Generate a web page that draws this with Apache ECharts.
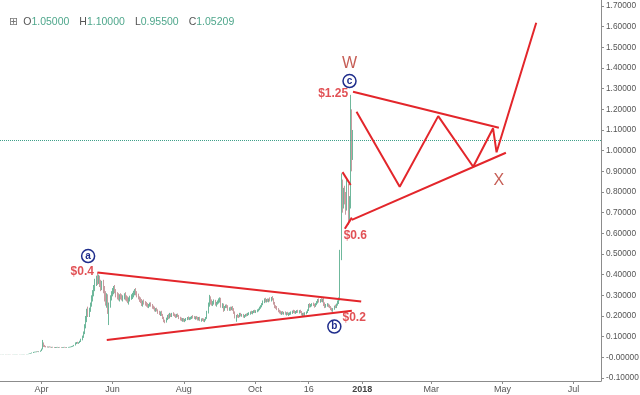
<!DOCTYPE html>
<html><head><meta charset="utf-8">
<script src="https://cdn.jsdelivr.net/npm/echarts@6/dist/echarts.min.js"></script>
<style>html,body{margin:0;padding:0;background:#fff}#c{width:640px;height:395px}</style>
</head><body><div id="c"></div>
<script>
// ---- Daily candles [open, high, low, close] ----
const feb17 = [[0.0130,0.0135,0.0128,0.0132],[0.0132,0.0136,0.0129,0.0131],[0.0131,0.0134,0.0127,0.0133],[0.0133,0.0138,0.0130,0.0135]];
const mar17 = [[0.0135,0.0140,0.0132,0.0137],[0.0137,0.0141,0.0133,0.0136],[0.0136,0.0139,0.0131,0.0134],[0.0134,0.0138,0.0130,0.0136],[0.0136,0.0140,0.0133,0.0138],[0.0138,0.0142,0.0134,0.0137],[0.0137,0.0140,0.0132,0.0135],[0.0135,0.0139,0.0131,0.0136],[0.0136,0.0141,0.0133,0.0139],[0.0139,0.0143,0.0135,0.0140],[0.0140,0.0146,0.0137,0.0143],[0.0143,0.0147,0.0139,0.0141],[0.0141,0.0145,0.0137,0.0142],[0.0142,0.0146,0.0138,0.0140],[0.0140,0.0144,0.0136,0.0142],[0.0142,0.0148,0.0139,0.0146],[0.0146,0.0152,0.0142,0.0149],[0.0149,0.0155,0.0144,0.0147],[0.0147,0.0153,0.0143,0.0151],[0.0151,0.0158,0.0148,0.0155],[0.0155,0.0170,0.0152,0.0166],[0.0166,0.0185,0.0160,0.0178],[0.0178,0.0205,0.0172,0.0196],[0.0196,0.0230,0.0188,0.0221],[0.0221,0.0260,0.0210,0.0245],[0.0245,0.0270,0.0232,0.0252],[0.0252,0.0275,0.0240,0.0258],[0.0258,0.0285,0.0245,0.0270],[0.0270,0.0295,0.0255,0.0265],[0.0265,0.0290,0.0250,0.0275],[0.0275,0.0330,0.0265,0.0310]];
const apr17 = [[0.0310,0.0420,0.0300,0.0400],[0.0400,0.0840,0.0380,0.0620],[0.0620,0.0720,0.0500,0.0560],[0.0560,0.0600,0.0490,0.0520],[0.0520,0.0550,0.0480,0.0500],[0.0500,0.0530,0.0470,0.0490],[0.0490,0.0520,0.0470,0.0505],[0.0505,0.0530,0.0480,0.0495],[0.0495,0.0515,0.0470,0.0480],[0.0480,0.0505,0.0460,0.0490],[0.0490,0.0510,0.0465,0.0475],[0.0475,0.0500,0.0455,0.0470],[0.0470,0.0495,0.0450,0.0480],[0.0480,0.0500,0.0460,0.0485],[0.0485,0.0505,0.0465,0.0478],[0.0478,0.0498,0.0460,0.0482],[0.0482,0.0502,0.0465,0.0476],[0.0476,0.0495,0.0458,0.0470],[0.0470,0.0492,0.0455,0.0478],[0.0478,0.0500,0.0462,0.0485],[0.0485,0.0505,0.0468,0.0480],[0.0480,0.0498,0.0462,0.0474],[0.0474,0.0495,0.0458,0.0480],[0.0480,0.0502,0.0465,0.0488],[0.0488,0.0510,0.0470,0.0495],[0.0495,0.0520,0.0478,0.0505],[0.0505,0.0540,0.0490,0.0525],[0.0525,0.0560,0.0505,0.0545],[0.0545,0.0600,0.0530,0.0580],[0.0580,0.0720,0.0570,0.0680]];
const may17 = [[0.068,0.074,0.064,0.070],[0.070,0.075,0.066,0.068],[0.068,0.073,0.065,0.071],[0.071,0.080,0.069,0.077],[0.077,0.090,0.074,0.086],[0.086,0.105,0.082,0.098],[0.098,0.125,0.094,0.118],[0.118,0.160,0.112,0.150],[0.150,0.200,0.140,0.185],[0.185,0.235,0.170,0.220],[0.220,0.245,0.195,0.210],[0.210,0.240,0.195,0.230],[0.230,0.265,0.220,0.255],[0.255,0.300,0.245,0.290],[0.290,0.325,0.270,0.310],[0.310,0.350,0.295,0.340],[0.340,0.380,0.320,0.365],[0.365,0.395,0.345,0.385],[0.385,0.410,0.350,0.370],[0.370,0.400,0.355,0.380],[0.380,0.395,0.340,0.355],[0.355,0.375,0.320,0.345],[0.345,0.370,0.325,0.360],[0.360,0.375,0.310,0.325],[0.325,0.345,0.270,0.300],[0.300,0.320,0.250,0.270],[0.270,0.310,0.240,0.295],[0.295,0.305,0.210,0.230],[0.230,0.265,0.156,0.250],[0.250,0.300,0.240,0.290],[0.290,0.320,0.275,0.310]];
const jun17 = [[0.310,0.335,0.295,0.320],[0.320,0.345,0.305,0.330],[0.330,0.350,0.310,0.315],[0.315,0.330,0.290,0.300],[0.300,0.315,0.280,0.295],[0.295,0.310,0.275,0.285],[0.285,0.305,0.270,0.295],[0.295,0.310,0.280,0.290],[0.290,0.305,0.275,0.285],[0.285,0.300,0.270,0.292],[0.292,0.310,0.280,0.300],[0.300,0.315,0.275,0.285],[0.285,0.300,0.270,0.280],[0.280,0.295,0.262,0.272],[0.272,0.290,0.255,0.282],[0.282,0.298,0.270,0.290],[0.290,0.305,0.278,0.295],[0.295,0.312,0.282,0.300],[0.300,0.322,0.290,0.312],[0.312,0.330,0.300,0.318],[0.318,0.335,0.300,0.310],[0.310,0.320,0.290,0.298],[0.298,0.308,0.280,0.285],[0.285,0.295,0.268,0.278],[0.278,0.290,0.262,0.270],[0.270,0.282,0.248,0.258],[0.258,0.275,0.245,0.268],[0.268,0.280,0.255,0.262],[0.262,0.272,0.250,0.258],[0.258,0.268,0.245,0.255]];
const jul17 = [[0.255,0.262,0.240,0.248],[0.248,0.258,0.238,0.252],[0.252,0.265,0.245,0.258],[0.258,0.266,0.245,0.250],[0.250,0.258,0.235,0.242],[0.242,0.250,0.232,0.238],[0.238,0.245,0.222,0.228],[0.228,0.238,0.220,0.232],[0.232,0.240,0.222,0.226],[0.226,0.232,0.210,0.215],[0.215,0.225,0.205,0.210],[0.210,0.222,0.200,0.218],[0.218,0.225,0.200,0.205],[0.205,0.210,0.185,0.190],[0.190,0.196,0.170,0.175],[0.175,0.182,0.165,0.172],[0.172,0.192,0.168,0.188],[0.188,0.205,0.180,0.200],[0.200,0.210,0.185,0.195],[0.195,0.215,0.188,0.205],[0.205,0.212,0.195,0.200],[0.200,0.215,0.195,0.210],[0.210,0.218,0.200,0.205],[0.205,0.212,0.196,0.200],[0.200,0.208,0.190,0.198],[0.198,0.210,0.192,0.205],[0.205,0.212,0.195,0.198],[0.198,0.205,0.185,0.190],[0.190,0.196,0.178,0.185],[0.185,0.192,0.175,0.180],[0.180,0.190,0.172,0.182]];
const aug17 = [[0.182,0.190,0.172,0.178],[0.178,0.186,0.170,0.180],[0.180,0.190,0.175,0.186],[0.186,0.195,0.180,0.190],[0.190,0.198,0.182,0.186],[0.186,0.194,0.180,0.188],[0.188,0.196,0.182,0.192],[0.192,0.200,0.185,0.196],[0.196,0.204,0.188,0.194],[0.194,0.200,0.185,0.190],[0.190,0.198,0.182,0.192],[0.192,0.200,0.184,0.188],[0.188,0.196,0.178,0.185],[0.185,0.195,0.178,0.190],[0.190,0.196,0.175,0.180],[0.180,0.188,0.172,0.184],[0.184,0.190,0.176,0.180],[0.180,0.188,0.172,0.178],[0.178,0.186,0.170,0.182],[0.182,0.195,0.178,0.190],[0.190,0.225,0.186,0.218],[0.218,0.265,0.212,0.255],[0.255,0.302,0.245,0.285],[0.285,0.295,0.255,0.265],[0.265,0.280,0.250,0.258],[0.258,0.272,0.248,0.265],[0.265,0.280,0.255,0.270],[0.270,0.278,0.250,0.256],[0.256,0.268,0.245,0.262],[0.262,0.275,0.255,0.268],[0.268,0.285,0.260,0.275]];
const sep17 = [[0.275,0.290,0.265,0.282],[0.282,0.288,0.240,0.250],[0.250,0.262,0.238,0.255],[0.255,0.260,0.220,0.235],[0.235,0.248,0.225,0.242],[0.242,0.255,0.238,0.250],[0.250,0.256,0.238,0.245],[0.245,0.252,0.225,0.232],[0.232,0.242,0.225,0.238],[0.238,0.245,0.225,0.235],[0.235,0.245,0.228,0.240],[0.240,0.248,0.225,0.232],[0.232,0.238,0.210,0.218],[0.218,0.222,0.188,0.195],[0.195,0.205,0.172,0.200],[0.200,0.210,0.192,0.198],[0.198,0.205,0.190,0.196],[0.196,0.215,0.194,0.210],[0.210,0.215,0.198,0.202],[0.202,0.210,0.196,0.205],[0.205,0.210,0.192,0.198],[0.198,0.205,0.190,0.202],[0.202,0.210,0.196,0.206],[0.206,0.212,0.198,0.204],[0.204,0.215,0.200,0.210],[0.210,0.218,0.204,0.212],[0.212,0.222,0.206,0.218],[0.218,0.225,0.210,0.215],[0.215,0.224,0.208,0.220],[0.220,0.228,0.214,0.224]];
const oct17 = [[0.224,0.230,0.215,0.220],[0.220,0.228,0.214,0.224],[0.224,0.232,0.218,0.228],[0.228,0.236,0.222,0.232],[0.232,0.245,0.228,0.240],[0.240,0.252,0.235,0.248],[0.248,0.262,0.242,0.258],[0.258,0.275,0.252,0.270],[0.270,0.285,0.262,0.278],[0.278,0.288,0.266,0.272],[0.272,0.282,0.265,0.276],[0.276,0.285,0.268,0.274],[0.274,0.284,0.266,0.280],[0.280,0.290,0.270,0.278],[0.278,0.292,0.270,0.286],[0.286,0.296,0.275,0.282],[0.282,0.286,0.255,0.262],[0.262,0.268,0.238,0.245],[0.245,0.252,0.235,0.240],[0.240,0.248,0.228,0.232],[0.232,0.238,0.218,0.224],[0.224,0.230,0.212,0.220],[0.220,0.226,0.208,0.214],[0.214,0.222,0.205,0.218],[0.218,0.224,0.208,0.212],[0.212,0.220,0.206,0.216],[0.216,0.222,0.206,0.210],[0.210,0.218,0.202,0.212],[0.212,0.220,0.205,0.208],[0.208,0.216,0.200,0.212],[0.212,0.218,0.204,0.214]];
const nov17 = [[0.214,0.222,0.206,0.218],[0.218,0.226,0.210,0.222],[0.222,0.230,0.214,0.220],[0.220,0.228,0.212,0.216],[0.216,0.224,0.210,0.220],[0.220,0.228,0.214,0.224],[0.224,0.230,0.215,0.220],[0.220,0.228,0.212,0.222],[0.222,0.230,0.214,0.218],[0.218,0.224,0.202,0.208],[0.208,0.215,0.198,0.210],[0.210,0.216,0.195,0.204],[0.204,0.218,0.200,0.214],[0.214,0.222,0.208,0.218],[0.218,0.232,0.214,0.228],[0.228,0.258,0.224,0.252],[0.252,0.262,0.240,0.246],[0.246,0.258,0.242,0.254],[0.254,0.262,0.246,0.258],[0.258,0.265,0.248,0.252],[0.252,0.260,0.240,0.248],[0.248,0.262,0.244,0.258],[0.258,0.272,0.252,0.266],[0.266,0.282,0.260,0.276],[0.276,0.285,0.265,0.272],[0.272,0.282,0.264,0.278],[0.278,0.286,0.268,0.274],[0.274,0.284,0.266,0.280],[0.280,0.288,0.248,0.258],[0.258,0.266,0.238,0.250]];
const dec17 = [[0.250,0.258,0.240,0.252],[0.252,0.262,0.245,0.255],[0.255,0.260,0.242,0.248],[0.248,0.255,0.238,0.242],[0.242,0.248,0.228,0.234],[0.234,0.240,0.222,0.230],[0.230,0.238,0.220,0.236],[0.236,0.250,0.230,0.246],[0.246,0.255,0.238,0.242],[0.242,0.260,0.238,0.255],[0.255,0.275,0.250,0.268],[0.268,0.290,0.258,0.280],[0.280,0.520,0.275,0.480],[0.480,0.890,0.470,0.820],[0.820,0.860,0.700,0.740],[0.740,0.820,0.720,0.790],[0.790,0.830,0.740,0.760],[0.760,0.800,0.690,0.720],[0.720,0.860,0.710,0.800],[0.800,0.840,0.640,0.700],[0.700,0.780,0.660,0.740],[0.740,1.270,0.720,1.160],[1.160,1.200,0.900,1.050],[1.050,1.100,0.955,1.05209]];

// ---- Axis ticks ----
const firstDay = '2017-02-25';
const dayCount = 515;
const xTickDates  = ['2017-04-01','2017-06-01','2017-08-01','2017-10-01','2017-11-16','2018-01-01','2018-03-01','2018-05-01','2018-07-01'];
const xTickLabels = ['Apr','Jun','Aug','Oct','16','2018','Mar','May','Jul'];
const priceTickValues = [1.7,1.6,1.5,1.4,1.3,1.2,1.1,1.0,0.9,0.8,0.7,0.6,0.5,0.4,0.3,0.2,0.1,0,-0.1];
const priceTickLabels = ['1.70000','1.60000','1.50000','1.40000','1.30000','1.20000','1.10000','1.00000','0.90000','0.80000','0.70000','0.60000','0.50000','0.40000','0.30000','0.20000','0.10000','-0.00000','-0.10000'];
const priceMin = -0.1147, priceMax = 1.729;

// ---- Drawn annotations: [date, price] ----
const triangle1Upper = [['2017-05-19',0.41],['2017-12-31',0.27]];
const triangle1Lower = [['2017-05-27',0.084],['2017-12-23',0.225]];
const triangle2Upper = [['2017-12-24',1.285],['2018-04-28',1.111]];
const triangle2Lower = [['2017-12-23',0.665],['2018-05-04',0.99]];
const projection = [['2017-12-27',1.188],['2018-02-02',0.825],['2018-03-07',1.167],['2018-04-06',0.922],['2018-04-23',1.108],['2018-04-26',0.992],['2018-05-30',1.619]];
const tickUpper = [['2017-12-15',0.896],['2017-12-22',0.834]];
const tickLower = [['2017-12-17',0.622],['2017-12-23',0.676]];
const priceNotes = [['2017-05-06',0.415,'$0.4'],['2017-12-25',0.193,'$0.2'],['2017-12-07',1.276,'$1.25'],['2017-12-26',0.589,'$0.6']];
const waveNotes = [['2017-05-11',0.49,'a'],['2017-12-08',0.149,'b'],['2017-12-21',1.337,'c']];
const degreeNotes = [['2017-12-21',1.419,'W'],['2018-04-28',0.853,'X']];

// ---- build ----
const dates = [];
{
  const t0 = Date.parse(firstDay + 'T00:00:00Z');
  for (let i = 0; i < dayCount; i++) dates.push(new Date(t0 + i * 86400000).toISOString().slice(0, 10));
}
const rows = [].concat(feb17, mar17, apr17, may17, jun17, jul17, aug17, sep17, oct17, nov17, dec17);
const candles = rows.map(r => [r[0], r[3], r[2], r[1]]);
const last = rows[rows.length - 1];

const RED = '#e3262b';
const isTick = (idx, val) => xTickDates.indexOf(val) >= 0;
const lineSeries = (pts) => ({
  type: 'line', data: pts, showSymbol: false, symbol: 'none', silent: true, z: 5,
  lineStyle: { color: RED, width: 2 }, animation: false
});

const chart = echarts.init(document.getElementById('c'), null, { renderer: 'canvas' });
chart.setOption({
  animation: false,
  backgroundColor: '#ffffff',
  textStyle: { fontFamily: 'Liberation Sans, Arial, sans-serif' },
  title: {
    left: 4, top: 8,
    text: '{i|⊞} {k|O}{v|' + last[0].toFixed(5) + '}  {k|H}{v|' + last[1].toFixed(5) + '}  {k|L}{v|' + last[2].toFixed(5) + '}  {k|C}{v|' + last[3].toFixed(5) + '}',
    textStyle: { fontWeight: 'normal', rich: {
      i: { color: '#777', fontSize: 11, fontWeight: 'normal', fontFamily: 'DejaVu Sans' },
      k: { color: '#555', fontSize: 10.5, fontWeight: 'normal', fontFamily: 'Liberation Sans' },
      v: { color: '#4fa78c', fontSize: 10.5, fontWeight: 'normal', fontFamily: 'Liberation Sans' }
    } }
  },
  grid: { left: 0, right: 39, top: 0, bottom: 14, outerBoundsMode: 'none', containLabel: false },
  xAxis: {
    type: 'category', data: dates, boundaryGap: true,
    axisLine: { onZero: false, lineStyle: { color: '#8c8c8c', width: 1 } },
    axisTick: { show: true, interval: isTick, alignWithLabel: true, length: 3, lineStyle: { color: '#8c8c8c' } },
    axisLabel: {
      interval: isTick, margin: 4, fontSize: 9, color: '#555',
      formatter: (v) => { const k = xTickDates.indexOf(v); return k === 5 ? '{b|' + xTickLabels[k] + '}' : (k >= 0 ? xTickLabels[k] : ''); },
      rich: { b: { fontSize: 9, fontWeight: 'bold', color: '#444' } }
    },
    splitLine: { show: false }
  },
  yAxis: {
    type: 'value', position: 'right', min: priceMin, max: priceMax, scale: true,
    axisLine: { show: true, lineStyle: { color: '#8c8c8c', width: 1 } },
    axisTick: { show: true, length: 3, customValues: priceTickValues, lineStyle: { color: '#8c8c8c' } },
    axisLabel: {
      customValues: priceTickValues, margin: 5, fontSize: 8.3, color: '#555',
      formatter: (v) => { const k = priceTickValues.findIndex(t => Math.abs(t - v) < 1e-9); return k >= 0 ? priceTickLabels[k] : ''; }
    },
    splitLine: { show: false }
  },
  series: [
    {
      type: 'candlestick', data: candles, z: 2,
      itemStyle: { color: '#6fb89c', color0: '#dc939a', borderColor: '#6fb89c', borderColor0: '#c99ca0', borderWidth: 1 },
      markLine: {
        silent: true, symbol: ['none', 'none'], label: { show: false },
        lineStyle: { type: 'dotted', color: '#3fa08a', width: 1 },
        data: [{ yAxis: last[3] }]
      }
    },
    lineSeries(triangle1Upper), lineSeries(triangle1Lower),
    lineSeries(triangle2Upper), lineSeries(triangle2Lower),
    lineSeries(projection), lineSeries(tickUpper), lineSeries(tickLower),
    {
      type: 'scatter', silent: true, z: 8, symbolSize: 1, itemStyle: { color: 'rgba(0,0,0,0)' },
      data: priceNotes.map(n => ({ value: [n[0], n[1]], name: n[2] })),
      label: { show: true, position: 'inside', formatter: p => p.name, color: '#d9262b', fontSize: 12, fontWeight: 'bold', fontFamily: 'Liberation Sans' }
    },
    {
      type: 'scatter', silent: true, z: 9, symbol: 'circle', symbolSize: 13,
      itemStyle: { color: '#ffffff', borderColor: '#1f2d8c', borderWidth: 1.5, opacity: 1 },
      data: waveNotes.map(n => ({ value: [n[0], n[1]], name: n[2] })),
      label: { show: true, position: 'inside', formatter: p => p.name, color: '#1f2d8c', fontSize: 10, fontWeight: 'bold', fontFamily: 'Liberation Sans' }
    },
    {
      type: 'scatter', silent: true, z: 8, symbolSize: 1, itemStyle: { color: 'rgba(0,0,0,0)' },
      data: degreeNotes.map(n => ({ value: [n[0], n[1]], name: n[2] })),
      label: { show: true, position: 'inside', formatter: p => p.name, color: '#b8352a', fontSize: 16, fontFamily: 'Liberation Sans' }
    }
  ]
});
</script></body></html>
